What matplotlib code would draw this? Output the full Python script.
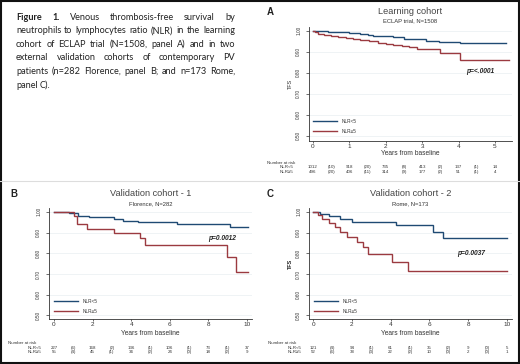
import matplotlib
matplotlib.use('Agg')
import matplotlib.pyplot as plt
from matplotlib import transforms
from matplotlib.patches import Rectangle
from matplotlib.lines import Line2D

# ---------------- data ----------------
caption_lines = [
    "Figure 1. Venous thrombosis-free survival by",
    "neutrophils to lymphocytes ratio (NLR) in the learning",
    "cohort of ECLAP trial (N=1508, panel A) and in two",
    "external validation cohorts of contemporary PV",
    "patients (n=282 Florence, panel B; and n=173 Rome,",
    "panel C).",
]
group_labels = ["NLR<5", "NLR\u22655"]

# Panel A - learning cohort (ECLAP)
a_low_t = [0, 0.15, 0.4, 0.6, 0.75, 1.0, 1.3, 1.5, 1.66, 1.9, 2.2, 2.5, 2.75, 3.1, 3.45, 3.75, 4.04, 5.3]
a_low_s = [1.0, 0.998, 0.996, 0.994, 0.992, 0.988, 0.983, 0.980, 0.977, 0.973, 0.968, 0.963, 0.959, 0.952, 0.948, 0.946, 0.940, 0.940]
a_high_t = [0, 0.05, 0.15, 0.3, 0.5, 0.7, 0.9, 1.1, 1.3, 1.55, 1.8, 2.0, 2.2, 2.45, 2.65, 2.85, 3.5, 4.05, 5.4]
a_high_s = [1.0, 0.992, 0.986, 0.980, 0.975, 0.970, 0.965, 0.960, 0.955, 0.950, 0.944, 0.938, 0.932, 0.927, 0.921, 0.912, 0.892, 0.862, 0.862]
a_risk_low = [1012, 918, 735, 413, 137, 14]
a_ev_low = [10, 20, 8, 2, 1]
a_risk_high = [496, 406, 314, 177, 51, 4]
a_ev_high = [20, 11, 9, 2, 1]

# Panel B - Florence
b_low_t = [0, 0.8, 1.25, 1.8, 3.1, 3.6, 4.35, 6.35, 9.1, 10.05]
b_low_s = [1.0, 0.993, 0.982, 0.975, 0.967, 0.958, 0.952, 0.944, 0.926, 0.926]
b_high_t = [0, 1.05, 1.2, 1.7, 3.1, 4.45, 4.7, 8.95, 9.45, 10.05]
b_high_s = [1.0, 0.98, 0.942, 0.918, 0.897, 0.873, 0.84, 0.78, 0.711, 0.711]
b_risk_low = [227, 168, 136, 106, 73, 37]
b_ev_low = [6, 2, 1, 1, 1]
b_risk_high = [55, 45, 34, 24, 18, 9]
b_ev_high = [4, 1, 2, 0, 2]

# Panel C - Rome
c_low_t = [0, 0.35, 0.8, 1.4, 2.0, 4.3, 6.2, 6.7, 10.0]
c_low_s = [1.0, 0.99, 0.98, 0.966, 0.953, 0.937, 0.905, 0.872, 0.872]
c_high_t = [0, 0.27, 0.45, 0.8, 1.13, 1.39, 1.73, 2.25, 2.6, 2.85, 4.05, 4.9, 10.0]
c_high_s = [1.0, 0.985, 0.965, 0.945, 0.926, 0.905, 0.877, 0.856, 0.832, 0.797, 0.756, 0.715, 0.715]
c_risk_low = [121, 94, 61, 35, 9, 5]
c_ev_low = [4, 1, 1, 2, 0]
c_risk_high = [52, 38, 22, 10, 2, 1]
c_ev_high = [6, 3, 2, 0, 0]

y_ticks = [0.5, 0.6, 0.7, 0.8, 0.9, 1.0]
y_ticklabels = ["0.50", "0.60", "0.70", "0.80", "0.90", "1.00"]

# ---------------- layout helpers ----------------
W, H = 520, 364
fig = plt.figure(figsize=(W / 100, H / 100), dpi=100)
fig.patch.set_facecolor('white')


def fx(px):
    return px / W


def fy(py):
    return 1 - py / H


BLUE = '#1f4a73'
RED = '#9b3a40'
SANS = ['Liberation Sans', 'DejaVu Sans']
CAPF = ['Lato', 'DejaVu Sans']

renderer = fig.canvas.get_renderer()

# ---------------- caption (justified) ----------------
left_px, right_px = 16, 235
probe = fig.text(0, 0, caption_lines[1], fontsize=10, family=CAPF)
w10 = probe.get_window_extent(renderer).width
probe.remove()
CFS = 10 * 214 / w10

for i, line in enumerate(caption_lines):
    words = line.split(' ')
    base_py = 19.5 + 13.6 * i
    texts = []
    for j, w in enumerate(words):
        bold = (i == 0 and j < 2)
        t = fig.text(0, fy(base_py), w, fontsize=CFS, family=CAPF,
                     fontweight='bold' if bold else 'normal',
                     ha='left', va='baseline', color='#222222')
        texts.append(t)
    widths = [t.get_window_extent(renderer).width for t in texts]
    if i < len(caption_lines) - 1 and len(words) > 1:
        gap = (right_px - left_px - sum(widths)) / (len(words) - 1)
    else:
        sp = fig.text(0, 0, 'a a', fontsize=CFS, family=CAPF)
        sp2 = fig.text(0, 0, 'aa', fontsize=CFS, family=CAPF)
        gap = sp.get_window_extent(renderer).width - sp2.get_window_extent(renderer).width
        sp.remove(); sp2.remove()
    x = left_px
    for t, w in zip(texts, widths):
        t.set_position((fx(x), fy(base_py)))
        x += w + gap

# ---------------- panels ----------------
panels = [
    dict(letter='A', letter_xy=(267, 12), title='Learning cohort', subtitle='ECLAP trial, N=1508',
         title_y=(12, 20.5), box=(309, 512, 27, 141), xlim=(-0.11, 5.47), ylim=(0.475, 1.018),
         xticks=[0, 1, 2, 3, 4, 5], curves=[(a_low_t, a_low_s, BLUE), (a_high_t, a_high_s, RED)],
         pval='p=<.0001', pval_xy=(4.6, 0.808), step=1.0,
         risk=[(a_risk_low, a_ev_low), (a_risk_high, a_ev_high)],
         nar_xy=(267, 162.7), row_right=293, rows_y=(167.5, 172.3), xlabel_y=153, legend_top=119),
    dict(letter='B', letter_xy=(10, 194), title='Validation cohort - 1', subtitle='Florence, N=282',
         title_y=(194, 203.5), box=(49, 252, 208, 319), xlim=(-0.26, 10.26), ylim=(0.483, 1.019),
         xticks=[0, 2, 4, 6, 8, 10], curves=[(b_low_t, b_low_s, BLUE), (b_high_t, b_high_s, RED)],
         pval='p=0.0012', pval_xy=(8.7, 0.87), step=2.0,
         risk=[(b_risk_low, b_ev_low), (b_risk_high, b_ev_high)],
         nar_xy=(8, 342.7), row_right=41, rows_y=(347.7, 352.3), xlabel_y=333, legend_top=299),
    dict(letter='C', letter_xy=(267, 194), title='Validation cohort - 2', subtitle='Rome, N=173',
         title_y=(194, 203.5), box=(309, 512, 208, 319), xlim=(-0.21, 10.26), ylim=(0.483, 1.019),
         xticks=[0, 2, 4, 6, 8, 10], curves=[(c_low_t, c_low_s, BLUE), (c_high_t, c_high_s, RED)],
         pval='p=0.0037', pval_xy=(8.15, 0.80), step=2.0,
         risk=[(c_risk_low, c_ev_low), (c_risk_high, c_ev_high)],
         nar_xy=(268, 342.7), row_right=301, rows_y=(347.7, 352.3), xlabel_y=333, legend_top=299),
]

for p in panels:
    l, r, t, b = p['box']
    ax = fig.add_axes([fx(l), fy(b), (r - l) / W, (b - t) / H])
    ax.set_facecolor('white')
    handles = []
    for (tt, ss, col), lab in zip(p['curves'], group_labels):
        h, = ax.step(tt, ss, where='post', color=col, lw=1.0, label=lab, solid_joinstyle='miter')
        handles.append(h)
    ax.set_xlim(*p['xlim'])
    ax.set_ylim(*p['ylim'])
    ax.set_xticks(p['xticks'])
    ax.set_xticklabels([str(v) for v in p['xticks']], fontsize=4.6, family=SANS)
    ax.set_yticks(y_ticks)
    ax.set_yticklabels(y_ticklabels, rotation=90, va='center', ha='right', fontsize=3.4, family=SANS)
    ax.tick_params(axis='y', length=2, width=0.5, pad=3.5, colors='#333333')
    ax.tick_params(axis='x', length=1.5, width=0.5, pad=1, colors='#333333')
    for s in ['top', 'right']:
        ax.spines[s].set_visible(False)
    for s in ['left', 'bottom']:
        ax.spines[s].set_linewidth(0.6)
        ax.spines[s].set_color('#333333')
    ax.yaxis.grid(True, color='#e9eef1', lw=0.5)
    ax.set_axisbelow(True)

    ax.set_ylabel('TFS', fontsize=4, family=SANS, color='#333333')
    ax.yaxis.set_label_coords((293 - l) / (r - l), 0.5)
    ax.set_xlabel('Years from baseline', fontsize=4.8, family=SANS, color='#333333')
    ax.xaxis.set_label_coords(0.5, (b - (p['xlabel_y'] - 3)) / (b - t))

    ax.text(p['pval_xy'][0], p['pval_xy'][1], p['pval'], fontsize=4.8, family=SANS,
            fontweight='bold', fontstyle='italic', ha='center', va='center', color='#222222')

    leg = ax.legend(handles=handles, loc='upper left',
                    bbox_to_anchor=((p['nar_xy'][0] * 0 + (l + 4 if p['letter'] == 'A' else l + 5) - l) / (r - l),
                                    (b - p['legend_top']) / (b - t)),
                    frameon=False, fontsize=3.4, handlelength=5.0, handletextpad=1.0,
                    labelspacing=1.0, borderpad=0, borderaxespad=0,
                    prop={'family': SANS, 'size': 3.4})
    for txt in leg.get_texts():
        txt.set_color('#333333')

    # titles
    cx = (l + r) / 2
    fig.text(fx(cx), fy(p['title_y'][0]), p['title'], fontsize=6.6, family=SANS,
             ha='center', va='center', color='#444444')
    fig.text(fx(cx), fy(p['title_y'][1]), p['subtitle'], fontsize=4.2, family=SANS,
             ha='center', va='center', color='#333333')
    fig.text(fx(p['letter_xy'][0]), fy(p['letter_xy'][1]), p['letter'], fontsize=7,
             family=SANS, fontweight='bold', ha='left', va='center', color='#222222')

    # number at risk table
    tr = transforms.blended_transform_factory(ax.transData, fig.transFigure)
    fig.text(fx(p['nar_xy'][0]), fy(p['nar_xy'][1]), 'Number at risk', fontsize=3.2,
             family=SANS, ha='left', va='center', color='#333333')
    step = p['step']
    for (counts, events), lab, ry in zip(p['risk'], group_labels, p['rows_y']):
        fig.text(fx(p['row_right']), fy(ry), lab, fontsize=3.2, family=SANS,
                 ha='right', va='center', color='#333333')
        for k, n in enumerate(counts):
            ax.text(k * step, fy(ry), str(n), transform=tr, fontsize=3.2, family=SANS,
                    ha='center', va='center', color='#333333')
        for k, e in enumerate(events):
            ax.text(k * step + step / 2, fy(ry), '(%d)' % e, transform=tr, fontsize=3.2,
                    family=SANS, ha='center', va='center', color='#333333')

# separators and outer frame
fig.add_artist(Line2D([0, 1], [fy(181), fy(181)], transform=fig.transFigure,
                      color='#dddddd', lw=0.8))
fig.add_artist(Rectangle((0.002, 0.003), 0.996, 0.994, transform=fig.transFigure,
                         fill=False, edgecolor='#111111', lw=1.5))

fig.savefig('out.png', dpi=100, facecolor='white')
